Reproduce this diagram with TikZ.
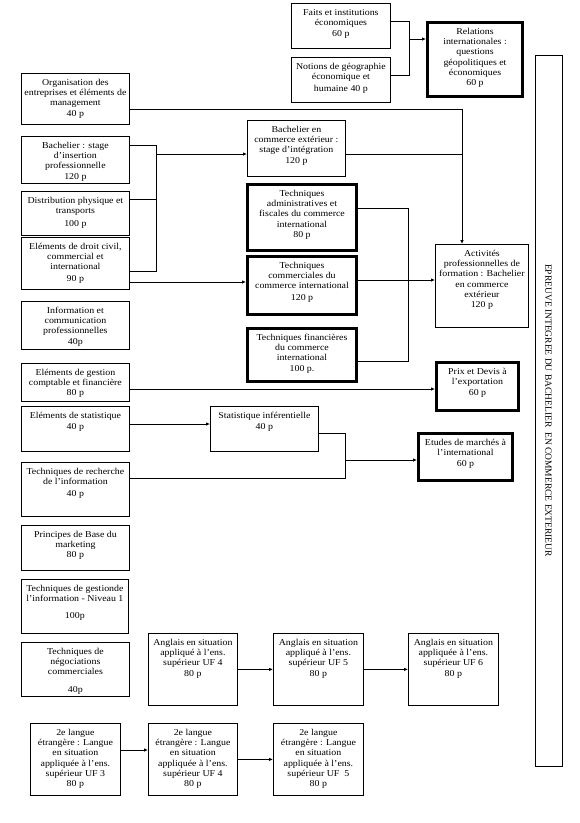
\documentclass[tikz,border=0pt]{standalone}
\usepackage{fontspec}
\setmainfont{Liberation Serif}[FakeStretch=1.1]
\newfontfamily\epreuvefont{Liberation Serif}
\usetikzlibrary{positioning, arrows.meta}
\newcommand{\modfont}{\fontsize{9}{10.3}\selectfont}
\newcommand{\modtext}[3]{\vbox to #2{\vskip4.5pt\hbox to #1{\hss\begin{tabular}{@{}c@{}}#3\end{tabular}\hss}\vfil}}
\tikzstyle{module} = [rectangle, draw=black, line width=0.8pt, inner sep=0pt, anchor=north west, font=\modfont]
\tikzstyle{keymodule} = [module, line width=3pt]
\tikzstyle{link} = [line width=0.8pt]
\tikzstyle{arrow} = [link, -{Latex[length=4pt,width=3.5pt]}]

\begin{document}
\begin{tikzpicture}[x=1pt, y=-1pt]
  \useasboundingbox (0,0) rectangle (580,823);
  % top
  \node (faits) [module] at (291,3) {\modtext{99pt}{45pt}{Faits et institutions\\économiques\\[1pt]60 p}};
  \node (notions) [module] at (291,57) {\modtext{99pt}{45pt}{Notions de géographie\\économique et\\[1.5pt]humaine 40 p}};
  \node (relations) [keymodule] at (426,21) {\modtext{95pt}{74pt}{Relations\\internationales :\\questions\\géopolitiques et\\économiques\\60 p}};
  \node (epreuve) [module, anchor=center, rotate=-90, minimum width=711pt, minimum height=27pt, font=\epreuvefont\fontsize{9.5}{11}\selectfont] at (548.5,410.5) {EPREUVE INTEGREE DU BACHELIER\ \ EN COMMERCE EXTERIEUR};

  % left column
  \node (orga) [module] at (21,73) {\modtext{108pt}{51pt}{Organisation des\\entreprises et éléments de\\management\\40 p}};
  \node (stage) [module] at (21,136) {\modtext{108pt}{47pt}{Bachelier : stage\\d'insertion\\professionnelle\\120 p}};
  \node (distrib) [module] at (21,191) {\modtext{108pt}{44pt}{Distribution physique et\\transports\\[2.5pt]100 p}};
  \node (droit) [module] at (21,237) {\modtext{108pt}{52pt}{Eléments de droit civil,\\commercial et\\international\\[1pt]90 p}};
  \node (information) [module] at (21,301) {\modtext{108pt}{48pt}{Information et\\communication\\professionnelles\\40p}};
  \node (gestion) [module] at (21,363) {\modtext{108pt}{38pt}{Eléments de gestion\\comptable et financière\\80 p}};
  \node (elstat) [module] at (21,406) {\modtext{108pt}{45pt}{Eléments de statistique\\[1pt]40 p}};
  \node (recherche) [module] at (21,462) {\modtext{108pt}{54pt}{Techniques de recherche\\de l'information\\[1.5pt]40 p}};
  \node (principes) [module] at (21,525) {\modtext{108pt}{45pt}{Principes de Base du\\marketing\\80 p}};
  \node (infogestion) [module] at (21,579) {\modtext{107pt}{54pt}{Techniques de gestionde\\l'information - Niveau 1\\[7pt]100p}};
  \node (negociation) [module] at (21,642) {\modtext{108pt}{54pt}{Techniques de\\négociations\\commerciales\\[7pt]40p}};

  % middle
  \node (bcom) [module] at (247,120) {\modtext{98pt}{56pt}{Bachelier en\\commerce extérieur :\\stage d'intégration\\120 p}};
  \node (admin) [keymodule] at (246,183) {\modtext{109pt}{66pt}{Techniques\\administratives et\\fiscales du commerce\\international\\80 p}};
  \node (techcom) [keymodule] at (246,255) {\modtext{109pt}{58pt}{Techniques\\commerciales du\\commerce international\\[1pt]120 p}};
  \node (techfin) [keymodule] at (246,327) {\modtext{109pt}{53pt}{Techniques financières\\du commerce\\international\\100 p.}};
  \node (statinf) [module] at (210,406) {\modtext{108pt}{45pt}{Statistique inférentielle\\[1pt]40 p}};

  % right
  \node (activites) [module] at (435,244) {\modtext{93pt}{83pt}{Activités\\professionnelles de\\formation : Bachelier\\en commerce\\extérieur\\120 p}};
  \node (prix) [keymodule] at (435,361) {\modtext{82pt}{48pt}{Prix et Devis à\\l'exportation\\[1pt]60 p}};
  \node (etudes) [keymodule] at (417,432) {\modtext{94pt}{47pt}{Etudes de marchés à\\l'international\\[1pt]60 p}};

  % langues
  \node (anglaisA) [module] at (148,633) {\modtext{89pt}{72pt}{Anglais en situation\\appliqué à l'ens.\\supérieur UF 4\\80 p}};
  \node (anglaisB) [module] at (273,633) {\modtext{90pt}{72pt}{Anglais en situation\\appliqué à l'ens.\\supérieur UF 5\\80 p}};
  \node (anglaisC) [module] at (408,633) {\modtext{90pt}{72pt}{Anglais en situation\\appliquée à l'ens.\\supérieur UF 6\\80 p}};
  \node (langueA) [module] at (30,723) {\modtext{90pt}{72pt}{2e langue\\étrangère : Langue\\en situation\\appliquée à l'ens.\\supérieur UF 3\\80 p}};
  \node (langueB) [module] at (148,723) {\modtext{89pt}{72pt}{2e langue\\étrangère : Langue\\en situation\\appliquée à l'ens.\\supérieur UF 4\\80 p}};
  \node (langueC) [module] at (273,723) {\modtext{90pt}{72pt}{2e langue\\étrangère : Langue\\en situation\\appliquée à l'ens.\\supérieur UF\ \ 5\\80 p}};

  % junctions
  \coordinate (jfaits) at (409,21);
  \coordinate (jnotions) at (409,75);
  \coordinate (jrel) at (409,39);
  \coordinate (jorga) at (462,109);
  \coordinate (jstage) at (156,145);
  \coordinate (jdistrib) at (156,199);
  \coordinate (jdroit) at (156,271);
  \coordinate (jbcom) at (156,154);
  \coordinate (jcom) at (200,282);
  \coordinate (jadmin) at (408,208);
  \coordinate (jfin) at (408,361);
  \coordinate (jact) at (408,280);
  \coordinate (jprix) at (200,389);
  \coordinate (jstat) at (150,424);
  \coordinate (jinf) at (345,433);
  \coordinate (jrech) at (345,478);
  \coordinate (jetudes) at (345,460);
  \coordinate (jlang) at (130,750);

  \draw [link] (faits.east |- jfaits) -- (jfaits) -- (jnotions) -- (notions.east |- jnotions);
  \draw [arrow] (jrel) -- (relations.west |- jrel);
  \draw [arrow] (orga.east |- jorga) -- (jorga) -- (activites.north -| jorga);
  \draw [link] (stage.east |- jstage) -- (jstage) -- (jdroit) -- (droit.east |- jdroit);
  \draw [link] (distrib.east |- jdistrib) -- (jdistrib);
  \draw [arrow] (jbcom) -- (bcom.west |- jbcom);
  \draw [link] (bcom.east |- jbcom) -- (jorga |- jbcom);
  \draw [arrow] (droit.east |- jcom) -- (techcom.west |- jcom);
  \draw [link] (admin.east |- jadmin) -- (jadmin) -- (jfin) -- (techfin.east |- jfin);
  \draw [arrow] (techcom.east |- jact) -- (activites.west |- jact);
  \draw [arrow] (gestion.east |- jprix) -- (prix.west |- jprix);
  \draw [arrow] (elstat.east |- jstat) -- (statinf.west |- jstat);
  \draw [link] (statinf.east |- jinf) -- (jinf) -- (jrech) -- (recherche.east |- jrech);
  \draw [arrow] (jetudes) -- (etudes.west |- jetudes);
  \draw [arrow] (anglaisA) -- (anglaisB);
  \draw [arrow] (anglaisB) -- (anglaisC);
  \draw [arrow] (langueA.east |- jlang) -- (langueB.west |- jlang);
  \draw [arrow] (langueB) -- (langueC);
\end{tikzpicture}
\end{document}
